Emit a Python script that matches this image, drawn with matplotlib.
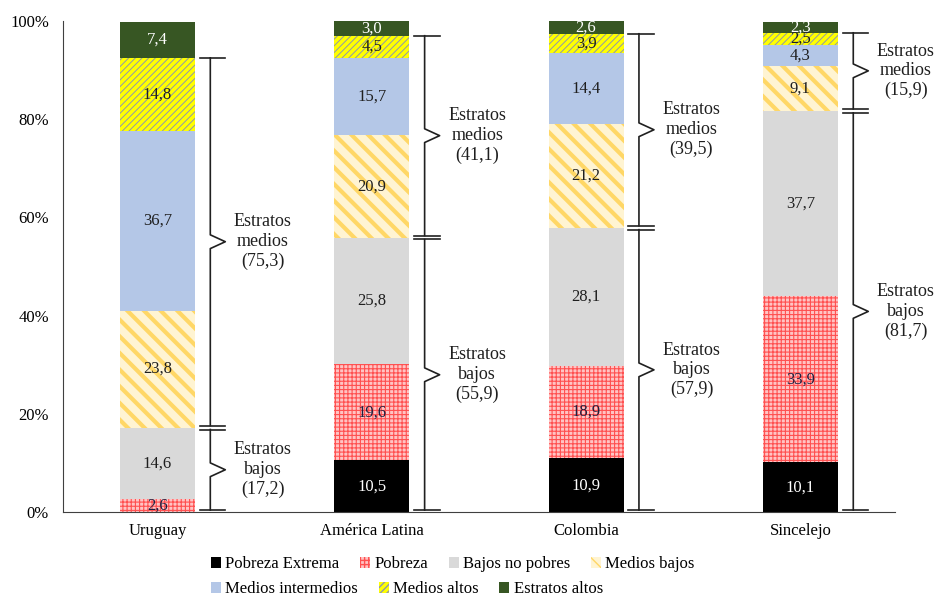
import numpy as np
import matplotlib as mpl
import matplotlib.pyplot as plt
from matplotlib.patches import Patch

plt.rcParams['font.family'] = ['Liberation Serif', 'DejaVu Serif']
plt.rcParams['hatch.linewidth'] = 1.0

# ---- Data (percent of population) ----
regions = ['Uruguay', 'América Latina', 'Colombia', 'Sincelejo']
series = ['Pobreza Extrema', 'Pobreza', 'Bajos no pobres', 'Medios bajos',
          'Medios intermedios', 'Medios altos', 'Estratos altos']

pobreza_extrema = [0.0, 10.5, 10.9, 10.1]
pobreza = [2.6, 19.6, 18.9, 33.9]
bajos_no_pobres = [14.6, 25.8, 28.1, 37.7]
medios_bajos = [23.8, 20.9, 21.2, 9.1]
medios_intermedios = [36.7, 15.7, 14.4, 4.3]
medios_altos = [14.8, 4.5, 3.9, 2.5]
estratos_altos = [7.4, 3.0, 2.6, 2.3]

estratos_bajos_tot = [17.2, 55.9, 57.9, 81.7]
estratos_medios_tot = [75.3, 41.1, 39.5, 15.9]

values = [pobreza_extrema, pobreza, bajos_no_pobres, medios_bajos,
          medios_intermedios, medios_altos, estratos_altos]

# ---- Styles: (facecolor, hatch, hatchcolor, hatch lw, label colour) ----
styles = [
    ('#000000', None, None, 1.0, 'white'),
    ('#FFC4C4', '++++', '#FF5050', 0.8, '#1F1F3F'),
    ('#D9D9D9', None, None, 1.0, '#1F1F1F'),
    ('#FFF4D2', '\\\\', '#FFD766', 3.0, '#1F1F1F'),
    ('#B4C7E7', None, None, 1.0, '#1F1F1F'),
    ('#FFFF00', '/////', '#9098A8', 0.7, '#1F1F1F'),
    ('#375623', None, None, 1.0, 'white'),
]

fig, ax = plt.subplots(figsize=(9.38, 5.97), dpi=100)
fig.subplots_adjust(left=0.067, right=0.954, bottom=0.1424, top=0.9648)

x = np.arange(len(regions))
width = 0.35
bottom = np.zeros(len(regions))
handles = []
for name, vals, (fc, hatch, hc, hlw, tc) in zip(series, values, styles):
    vals = np.array(vals)
    ec = hc if hc else fc
    with mpl.rc_context({'hatch.linewidth': hlw}):
        bars = ax.bar(x, vals, width, bottom=bottom, color=fc, edgecolor=ec,
                      hatch=hatch, linewidth=0)
        h = Patch(facecolor=fc, edgecolor=ec, hatch=hatch, linewidth=0,
                  label=name)
    for p in list(bars) + [h]:
        if hasattr(p, 'set_hatch_linewidth'):
            p.set_hatch_linewidth(hlw)
    for xi, b, v in zip(x, bottom, vals):
        if v > 0:
            ax.text(xi, b + v / 2, f'{v:.1f}'.replace('.', ','),
                    ha='center', va='center', fontsize=12, color=tc)
    handles.append(h)
    bottom += vals

# ---- Brackets for "Estratos bajos" / "Estratos medios" ----
off = 0.247
lc = '#202020'


def bracket(xc, y0, y1, label):
    lx = xc + off
    ym = (y0 + y1) / 2
    ax.plot([lx, lx, lx + 0.07, lx, lx], [y0, ym - 1.4, ym, ym + 1.4, y1],
            color=lc, lw=1.2)
    ax.text(lx + 0.245, ym, label, ha='center', va='center', fontsize=13,
            color='#1F1F1F', linespacing=1.2)


for i, xc in enumerate(x):
    lb = estratos_bajos_tot[i]
    lm = estratos_medios_tot[i]
    lx = xc + off
    bracket(xc, 0.4, lb - 0.4,
            'Estratos\nbajos\n(' + f'{lb:.1f}'.replace('.', ',') + ')')
    bracket(xc, lb + 0.4, lb + lm,
            'Estratos\nmedios\n(' + f'{lm:.1f}'.replace('.', ',') + ')')
    for yy in [0.4, lb + lm, lb - 0.4, lb + 0.4]:
        ax.plot([lx - 0.05, lx + 0.07], [yy, yy], color=lc, lw=1.2)

ax.set_xlim(-0.441, 3.441)
ax.set_ylim(0, 100)
ax.set_xticks(x)
ax.set_xticklabels(regions, fontsize=12)
ax.set_yticks(np.arange(0, 101, 20))
ax.set_yticklabels([f'{v}%' for v in range(0, 101, 20)], fontsize=12)
ax.tick_params(length=0, pad=8)
ax.tick_params(axis='y', pad=10)
for s in ['top', 'right']:
    ax.spines[s].set_visible(False)
ax.spines['left'].set_color('#404040')
ax.spines['bottom'].set_color('#404040')

# two legend rows, left aligned like the original
fig.legend(handles[:4], series[:4], ncol=4, loc='center left',
           bbox_to_anchor=(0.225, 0.055), frameon=False, fontsize=12,
           handlelength=0.6, handleheight=0.6, handletextpad=0.25,
           columnspacing=1.25, borderpad=0, borderaxespad=0)
fig.legend(handles[4:], series[4:], ncol=3, loc='center left',
           bbox_to_anchor=(0.225, 0.013), frameon=False, fontsize=12,
           handlelength=0.6, handleheight=0.6, handletextpad=0.25,
           columnspacing=1.25, borderpad=0, borderaxespad=0)

fig.savefig('out.png', dpi=100)
